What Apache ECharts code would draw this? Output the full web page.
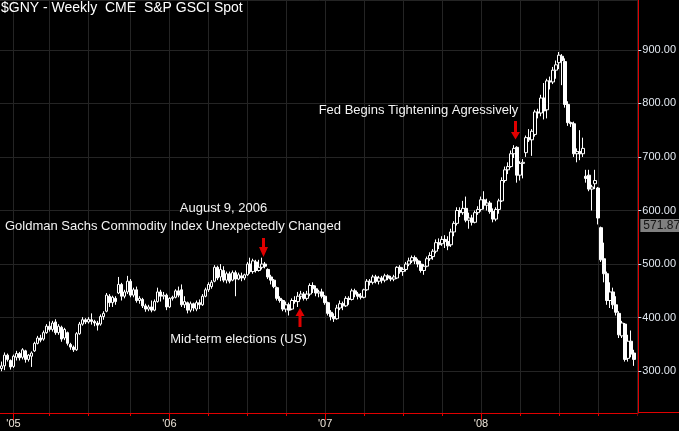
<!DOCTYPE html>
<html>
<head>
<meta charset="utf-8">
<script src="https://cdn.jsdelivr.net/npm/echarts@6/dist/echarts.min.js"></script>
<style>
html,body{margin:0;padding:0;background:#000;}
#chart{width:679px;height:431px;}
</style>
</head>
<body>
<div id="chart"></div>
<script>
// Weekly bars (Friday dates) starting 2004-12-10
const startDate = '2004-12-10';
const weekCount = 213;
const yearLabels = ["'05", "'06", "'07", "'08"];
const yTicks = [300, 400, 500, 600, 700, 800, 900];
const lastPrice = 571.87;

const opens = [
305,310,330,320,309,326,333,326,338,322,
328,338,352,362,360,372,384,378,392,372,
382,362,372,350,345,340,370,388,396,392,
396,393,390,388,402,412,440,428,436,446,
462,440,448,468,442,452,432,434,422,416,
420,414,430,448,440,442,420,436,438,450,
452,424,428,414,426,416,428,424,440,452,
458,468,494,476,488,470,482,470,484,472,
478,474,480,500,486,504,488,494,500,490,
476,470,456,436,432,416,424,416,432,430,
440,444,436,444,460,454,446,448,440,428,
410,402,398,418,426,422,436,434,450,444,
440,438,452,468,466,476,468,474,470,478,
474,472,474,494,486,490,500,506,512,506,
500,488,496,510,514,524,540,538,546,542,
536,560,576,600,596,604,582,586,578,596,
602,620,610,614,598,584,602,618,656,676,
682,706,718,666,688,708,736,732,742,784,
782,810,788,842,840,862,876,888,878,798,
764,762,706,710,706,664,666,640,650,642,
568,510,482,432,448,424,408,366,388,324,
356,334];

const closes = [
310,330,322,308,328,333,325,340,322,330,
334,352,362,358,372,384,378,390,372,384,
360,378,352,345,340,370,388,396,392,397,
393,390,386,402,408,442,428,438,430,462,
440,448,468,442,452,432,436,422,416,420,
414,430,448,440,442,420,436,438,450,442,
424,430,414,426,418,428,424,440,452,462,
466,494,474,490,470,482,468,484,472,480,
474,480,500,486,506,488,494,500,496,476,
470,458,436,432,416,424,414,432,430,440,
444,436,444,460,454,446,448,440,428,408,
402,398,418,426,422,436,434,450,444,440,
438,452,468,466,476,468,474,470,478,474,
472,476,494,486,490,500,506,512,506,500,
488,496,510,516,524,540,536,546,542,534,
560,576,600,596,604,582,586,578,596,602,
620,610,614,598,584,602,618,656,676,682,
706,716,666,688,690,736,732,748,784,782,
810,786,842,840,862,872,890,880,798,764,
762,706,710,706,716,660,640,644,656,586,
508,482,432,448,424,410,368,390,322,356,
332,322];

const lows = [
300,302,318,303,306,320,320,322,316,318,
308,336,350,354,357,370,374,374,368,368,
355,358,348,340,336,338,368,385,388,389,
387,384,376,385,396,410,420,420,424,444,
432,436,444,438,438,428,426,418,411,412,
410,412,428,430,434,414,418,432,436,438,
420,418,408,410,412,412,416,422,438,448,
454,466,470,468,466,464,464,468,440,470,
468,470,478,482,482,484,486,490,492,472,
462,455,432,428,412,410,404,414,426,420,
434,432,432,440,446,440,438,436,424,404,
395,392,396,414,414,420,424,432,438,434,
434,436,450,460,462,464,462,464,466,470,
468,468,472,482,478,486,496,502,500,494,
484,480,494,506,508,520,528,534,530,526,
532,552,572,588,592,578,566,572,576,592,
598,602,600,594,578,580,594,616,652,668,
680,698,652,656,660,700,728,702,738,772,
776,770,772,826,836,846,864,834,792,758,
756,700,690,694,700,652,636,600,640,574,
504,466,424,418,416,404,362,362,318,318,
326,310];

const highs = [
318,335,333,322,331,338,336,343,340,332,
337,355,366,368,376,388,393,394,397,388,
385,381,374,353,348,373,392,401,399,401,
408,396,394,406,412,446,444,441,440,476,
465,452,478,472,456,458,440,437,426,424,
432,434,456,452,448,445,438,441,453,458,
462,440,430,430,428,432,434,444,456,466,
470,498,497,500,496,486,486,488,488,484,
484,482,504,512,510,508,508,512,504,492,
480,472,458,440,434,430,428,436,440,448,
450,448,450,464,466,460,452,454,442,430,
414,408,424,432,430,440,440,454,454,448,
446,454,472,472,480,480,478,478,482,481,
478,480,496,498,494,504,512,516,516,510,
506,500,514,522,528,546,548,552,554,552,
566,580,606,606,618,626,596,592,600,608,
626,636,622,618,604,606,622,662,682,690,
712,722,720,692,696,740,752,752,788,790,
816,838,846,850,868,880,896,892,884,804,
766,766,716,750,736,676,676,648,676,644,
570,540,486,466,456,440,412,394,390,368,
376,340];

// category dates
const categories = [];
const d0 = new Date(startDate + 'T12:00:00Z');
for (let i = 0; i < weekCount; i++) {
  const d = new Date(d0.getTime() + i * 7 * 86400000);
  categories.push(d.toISOString().slice(0, 10));
}
function monthOf(i) { return parseInt(categories[i].slice(5, 7), 10) - 1; }
function yearTag(i) { return "'" + categories[i].slice(2, 4); }
function isQuarterStart(i) {
  if (i === 0) return false;
  const m = monthOf(i);
  return m % 3 === 0 && monthOf(i - 1) !== m;
}
function isYearStart(i) {
  return i > 0 && monthOf(i) === 0 && monthOf(i - 1) === 11 && yearLabels.indexOf(yearTag(i)) >= 0;
}

const candleData = opens.map((o, i) => [o, closes[i], lows[i], highs[i]]);

const FONT = '"Liberation Sans", Arial, sans-serif';
const RED = '#e00000';
const Y_MIN = 222, Y_MAX = 993;

const annotations = [
  {type: 'text', x: 223.5, y: 208, style: {text: 'August 9, 2006', fill: '#f2f2f2', fontSize: 13, fontFamily: FONT, align: 'center', verticalAlign: 'middle'}},
  {type: 'text', x: 173, y: 226, style: {text: 'Goldman Sachs Commodity Index Unexpectedly Changed', fill: '#f2f2f2', fontSize: 13, fontFamily: FONT, align: 'center', verticalAlign: 'middle'}},
  {type: 'text', x: 238.5, y: 339, style: {text: 'Mid-term elections (US)', fill: '#f2f2f2', fontSize: 13, fontFamily: FONT, align: 'center', verticalAlign: 'middle'}},
  {type: 'text', x: 418.5, y: 110.5, style: {text: 'Fed Begins Tightening Agressively', fill: '#f2f2f2', fontSize: 13, fontFamily: FONT, align: 'center', verticalAlign: 'middle'}},
  {type: 'polygon', shape: {points: [[262,238],[265,238],[265,247],[268,247],[263.5,257],[259,247],[262,247]]}, style: {fill: RED}},
  {type: 'polygon', shape: {points: [[514,121],[517,121],[517,132],[520,132],[515.5,139.5],[511,132],[514,132]]}, style: {fill: RED}},
  {type: 'polygon', shape: {points: [[300,308],[304.5,316],[301.5,316],[301.5,327],[298.5,327],[298.5,316],[295.5,316]]}, style: {fill: RED}}
];

const chart = echarts.init(document.getElementById('chart'), null, {renderer: 'canvas'});
chart.setOption({
  backgroundColor: '#000',
  animation: false,
  title: {
    text: '$GNY - Weekly  CME  S&P GSCI Spot',
    left: 1, top: 1, padding: 0,
    textStyle: {color: '#ffffff', fontSize: 14, fontWeight: 'normal', fontFamily: FONT}
  },
  grid: {left: 0, right: 40, top: 0, bottom: 18, containLabel: false},
  xAxis: [{
    type: 'category',
    data: categories,
    boundaryGap: true,
    axisLine: {show: true, lineStyle: {color: RED, width: 1}},
    axisTick: {show: true, alignWithLabel: true, length: 3, interval: (i) => isQuarterStart(i), lineStyle: {color: RED}},
    axisLabel: {
      show: true, interval: (i) => isYearStart(i), color: '#ece4d8', fontSize: 11, fontFamily: FONT, margin: 5,
      formatter: (v) => "'" + v.slice(2, 4)
    },
    splitLine: {show: true, alignWithLabel: true, interval: (i) => isQuarterStart(i), lineStyle: {color: '#242424', width: 1}}
  }, {
    type: 'category',
    data: categories,
    boundaryGap: true,
    position: 'bottom',
    axisLine: {show: false},
    axisTick: {show: true, alignWithLabel: true, length: 7, interval: (i) => isYearStart(i), lineStyle: {color: RED}},
    axisLabel: {show: false},
    splitLine: {show: false}
  }],
  yAxis: {
    type: 'value',
    position: 'right',
    min: Y_MIN,
    max: Y_MAX,
    splitNumber: 8,
    axisLine: {show: true, lineStyle: {color: RED, width: 1}},
    axisTick: {show: true, length: 3, lineStyle: {color: '#d0dcec'}},
    axisLabel: {
      color: '#e2e8f0', fontSize: 11, fontFamily: FONT, margin: 4,
      showMinLabel: false, showMaxLabel: false,
      formatter: (v) => yTicks.indexOf(v) >= 0 ? v.toFixed(2) : ''
    },
    splitLine: {show: true, lineStyle: {color: '#242424', width: 1}}
  },
  series: [{
    type: 'candlestick',
    xAxisIndex: 0,
    data: candleData,
    barWidth: 3,
    itemStyle: {
      color: '#000000', color0: '#ffffff',
      borderColor: '#ffffff', borderColor0: '#ffffff', borderWidth: 1
    },
    markLine: {
      silent: true,
      symbol: 'none',
      lineStyle: {color: 'rgba(0,0,0,0)', width: 1, type: 'solid'},
      label: {
        show: true, position: 'end', distance: 2,
        formatter: () => lastPrice.toFixed(2),
        backgroundColor: '#808080', color: '#151515', fontSize: 12, fontFamily: FONT,
        padding: [1, 4, 0, 3], opacity: 1
      },
      data: [{yAxis: lastPrice}]
    }
  }],
  graphic: annotations
});

// extend the bottom axis line under the price-label column and hide the extra end tick
const axisY = Math.round(chart.convertToPixel({yAxisIndex: 0}, Y_MIN)) - 0.5;
const gridRight = chart.getWidth() - 40;
chart.setOption({
  graphic: annotations.concat([
    {type: 'rect', shape: {x: gridRight - 1.5, y: axisY + 1, width: 3, height: 20}, style: {fill: '#000'}, z: 100},
    {type: 'line', shape: {x1: gridRight - 1, y1: axisY, x2: 679, y2: axisY}, style: {stroke: RED, lineWidth: 1}, z: 101}
  ])
}, {replaceMerge: ['graphic']});
</script>
</body>
</html>
